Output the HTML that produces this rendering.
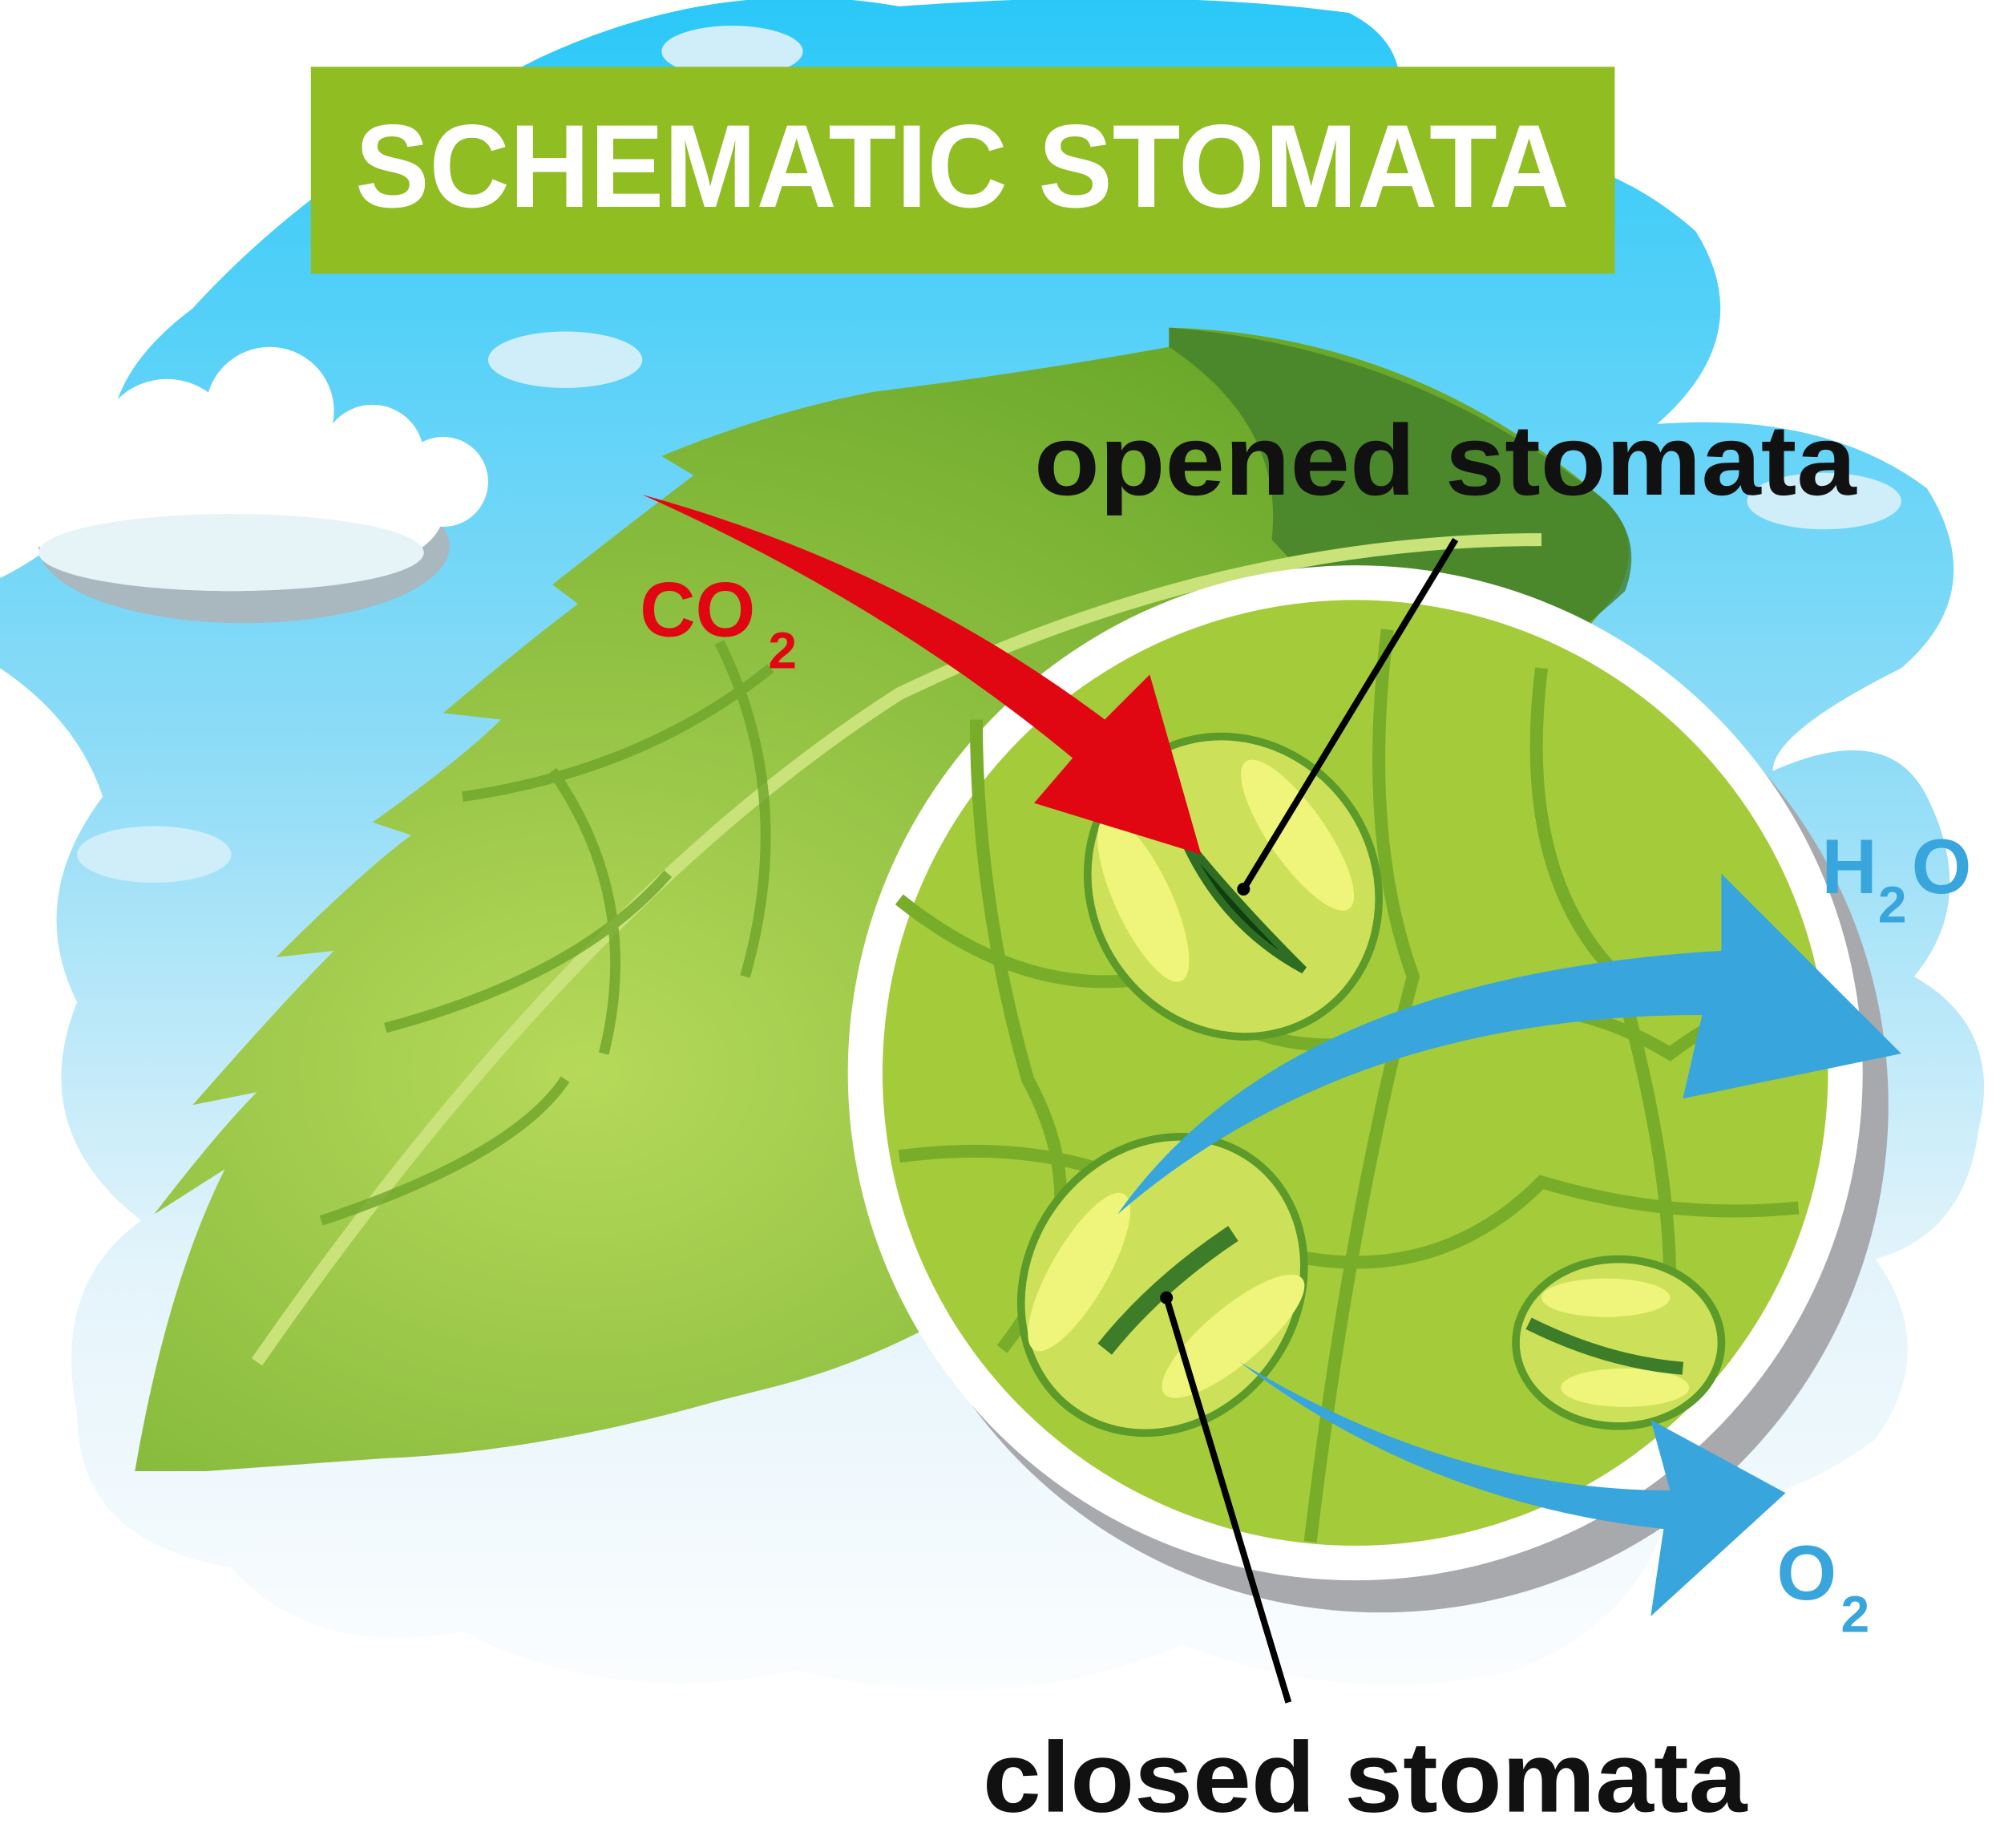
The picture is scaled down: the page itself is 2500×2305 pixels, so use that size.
<!DOCTYPE html>
<html><head><meta charset="utf-8"><style>
html,body{margin:0;padding:0;background:#fff;}
svg{display:block;}
text{font-family:"Liberation Sans",sans-serif;font-weight:bold;}
</style></head><body>
<svg width="2500" height="2305" viewBox="0 0 1560 1438.3" preserveAspectRatio="none" xmlns="http://www.w3.org/2000/svg">
<defs>
<linearGradient id="sky" x1="0" y1="0" x2="0" y2="1">
<stop offset="0" stop-color="#2ac8f8"/><stop offset="0.45" stop-color="#8fdcf7"/><stop offset="0.75" stop-color="#e4f4fb"/><stop offset="1" stop-color="#fbfdfe"/>
</linearGradient>
<radialGradient id="leafg" cx="0.3" cy="0.65" r="0.75">
<stop offset="0" stop-color="#b6d95a"/><stop offset="1" stop-color="#6aa82a"/>
</radialGradient>
</defs>
<rect width="1560" height="1440" fill="#fff"/>
<path d="M420 45 Q560 -20 700 5 Q900 -10 1050 10 Q1110 40 1080 110 Q1230 100 1320 180 Q1370 260 1290 330 Q1420 320 1500 380 Q1550 460 1480 520 Q1380 570 1380 600 Q1470 560 1500 620 Q1540 700 1490 760 Q1560 800 1540 880 Q1530 960 1460 980 Q1510 1050 1460 1120 Q1380 1180 1300 1170 Q1280 1260 1180 1300 Q1050 1330 920 1280 Q780 1340 620 1300 Q480 1330 360 1270 Q240 1290 180 1220 Q60 1200 60 1100 Q40 1000 110 950 Q20 880 60 780 Q20 700 80 620 Q60 560 0 520 L0 450 Q60 420 90 370 Q70 300 150 240 Q250 130 420 45 Z" fill="url(#sky)"/>
<!-- clouds -->
<g fill="#a9b7bf">
<ellipse cx="190" cy="425" rx="160" ry="60"/>
</g>
<g fill="#fff">
<ellipse cx="180" cy="400" rx="165" ry="60"/><circle cx="130" cy="350" r="55"/><circle cx="210" cy="320" r="50"/><circle cx="290" cy="355" r="40"/><circle cx="345" cy="375" r="35"/><circle cx="50" cy="385" r="40"/>
</g>
<g fill="#e6f3f7"><ellipse cx="180" cy="430" rx="150" ry="30"/></g>
<g fill="#cfeefa"><ellipse cx="440" cy="280" rx="60" ry="22"/><ellipse cx="120" cy="665" rx="60" ry="22"/><ellipse cx="1420" cy="390" rx="60" ry="22"/><ellipse cx="570" cy="40" rx="55" ry="20"/></g>
<!-- title -->
<rect x="242" y="52" width="1015" height="161" fill="#8fbd22"/>
<text x="749" y="161" font-size="92" fill="#fff" text-anchor="middle" textLength="945" lengthAdjust="spacingAndGlyphs">SCHEMATIC STOMATA</text>
<!-- leaf -->
<path d="M105 1145 Q130 1000 175 910 L120 945 Q170 880 200 850 L150 860 Q220 780 260 740 L215 745 Q280 680 320 650 L290 640 Q360 590 390 560 L345 555 Q410 500 450 470 L430 455 Q500 400 540 370 L515 355 Q600 320 680 305 Q800 290 910 270 L910 255 Q1100 260 1250 390 Q1280 420 1260 460 Q1100 650 900 900 Q760 1040 600 1080 L560 1090 Q420 1130 300 1135 L160 1145 Z" fill="url(#leafg)"/>
<path d="M910 255 Q1100 270 1250 390 Q1280 420 1265 460 Q1200 520 1120 560 L990 420 Q1000 330 910 270 Z" fill="#447f2c" opacity="0.8"/>
<path d="M200 1060 Q450 700 700 540 Q950 420 1200 420" fill="none" stroke="#c9e27a" stroke-width="10"/>
<g fill="none" stroke="#6ea52b" stroke-width="8" opacity="0.8">
<path d="M360 620 Q500 600 600 520"/><path d="M300 800 Q450 760 520 680"/><path d="M250 950 Q400 900 440 840"/><path d="M430 600 Q500 700 470 820"/><path d="M560 500 Q620 620 580 760"/>
</g>
<!-- circle -->
<circle cx="1075" cy="860" r="395" fill="#a8a9ad"/>
<circle cx="1055" cy="835" r="395" fill="#fff"/>
<circle cx="1055" cy="835" r="368" fill="#a4cb3a"/>
<g fill="none" stroke="#78ad2a" stroke-width="10">
<path d="M700 700 Q800 780 900 760 Q1000 840 1100 800 Q1200 760 1300 820 Q1380 760 1420 800"/>
<path d="M760 560 Q760 700 800 840 Q860 950 780 1050"/>
<path d="M1080 490 Q1060 650 1100 760 Q1050 950 1020 1200"/>
<path d="M1200 520 Q1180 680 1260 760 Q1300 900 1300 1000"/>
<path d="M700 900 Q850 880 950 960 Q1100 1020 1200 920 Q1300 950 1400 940"/>
</g>
<!-- stomata -->
<g stroke="#5c9a2a" stroke-width="6">
<ellipse cx="960" cy="690" rx="110" ry="120" transform="rotate(-35 960 690)" fill="#cde05a"/>
<ellipse cx="905" cy="1000" rx="105" ry="120" transform="rotate(35 905 1000)" fill="#cde05a"/>
<ellipse cx="1260" cy="1045" rx="80" ry="65" fill="#cde05a"/>
</g>
<g fill="#eef57a">
<ellipse cx="890" cy="700" rx="22" ry="70" transform="rotate(-25 890 700)"/>
<ellipse cx="1010" cy="650" rx="22" ry="70" transform="rotate(-35 1010 650)"/>
<ellipse cx="840" cy="990" rx="22" ry="70" transform="rotate(30 840 990)"/>
<ellipse cx="960" cy="1040" rx="22" ry="70" transform="rotate(50 960 1040)"/>
<ellipse cx="1250" cy="1010" rx="50" ry="15"/>
<ellipse cx="1265" cy="1080" rx="50" ry="15"/>
</g>
<path d="M920 650 Q960 700 1015 755 Q950 720 920 650 Z" fill="#0f3e0f" stroke="#2f6d24" stroke-width="6"/>
<path d="M860 1050 Q900 1000 960 960" stroke="#3d7d2a" stroke-width="14" fill="none"/>
<path d="M1190 1030 Q1250 1060 1310 1065" stroke="#3d7d2a" stroke-width="10" fill="none"/>
<!-- arrows -->
<path d="M500 385 Q700 440 860 560 L895 525 L935 665 L805 625 L835 590 Q690 470 500 385 Z" fill="#e00713"/>
<path d="M870 945 Q1000 760 1340 740 L1340 680 L1480 820 L1310 855 L1325 790 Q1050 790 870 945 Z" fill="#38a6dc"/>
<path d="M965 1060 Q1130 1160 1300 1160 L1285 1105 L1390 1162 L1285 1258 L1295 1190 Q1110 1170 965 1060 Z" fill="#38a6dc"/>
<!-- lines -->
<line x1="1133" y1="420" x2="968" y2="692" stroke="#000" stroke-width="5"/>
<circle cx="968" cy="692" r="5"/>
<line x1="908" y1="1010" x2="1003" y2="1325" stroke="#000" stroke-width="5"/>
<circle cx="908" cy="1010" r="5"/>
<!-- labels -->
<text x="805" y="385" font-size="78" fill="#111" textLength="640" lengthAdjust="spacingAndGlyphs">opened stomata</text>
<text x="765" y="1410" font-size="78" fill="#111" textLength="595" lengthAdjust="spacingAndGlyphs">closed stomata</text>
<text x="498" y="495" font-size="60" fill="#e00713">CO</text>
<text x="598" y="520" font-size="40" fill="#e00713">2</text>
<text x="1418" y="695" font-size="60" fill="#38a6dc">H</text>
<text x="1462" y="718" font-size="40" fill="#38a6dc">2</text>
<text x="1488" y="695" font-size="60" fill="#38a6dc">O</text>
<text x="1383" y="1245" font-size="60" fill="#38a6dc">O</text>
<text x="1433" y="1270" font-size="40" fill="#38a6dc">2</text>
</svg>
</body></html>
